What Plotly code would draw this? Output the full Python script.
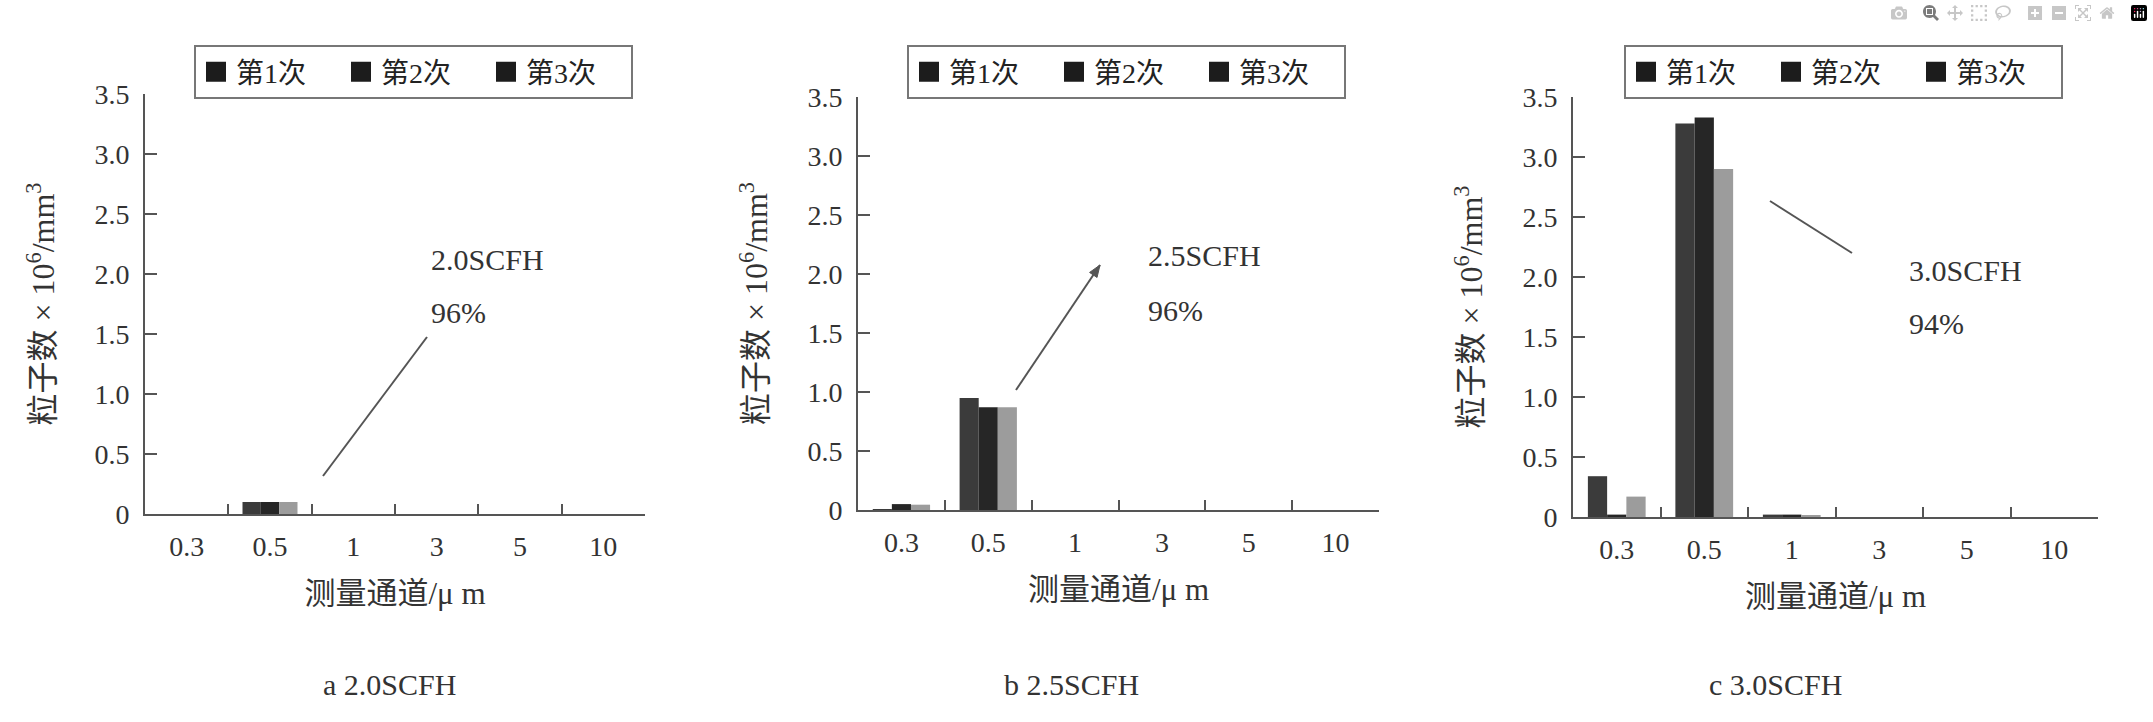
import math
import plotly.graph_objects as go

W, H = 2153, 722
FONT = "Liberation Serif, Noto Sans CJK SC, serif"
TXT = "#333333"
AXC = "#555555"

# ---------------- data ----------------
categories = ["0.3", "0.5", "1", "3", "5", "10"]
series_names = ["第1次", "第2次", "第3次"]

a_run1 = [0.0, 0.10, 0.0, 0.0, 0.0, 0.0]
a_run2 = [0.0, 0.10, 0.0, 0.0, 0.0, 0.0]
a_run3 = [0.0, 0.10, 0.0, 0.0, 0.0, 0.0]

b_run1 = [0.005, 0.95, 0.0, 0.0, 0.0, 0.0]
b_run2 = [0.05, 0.87, 0.0, 0.0, 0.0, 0.0]
b_run3 = [0.045, 0.87, 0.0, 0.0, 0.0, 0.0]

c_run1 = [0.34, 3.28, 0.02, 0.0, 0.0, 0.0]
c_run2 = [0.02, 3.33, 0.02, 0.0, 0.0, 0.0]
c_run3 = [0.17, 2.90, 0.015, 0.0, 0.0, 0.0]

y_tickvals = [0, 0.5, 1.0, 1.5, 2.0, 2.5, 3.0, 3.5]
y_ticktext = ["0", "0.5", "1.0", "1.5", "2.0", "2.5", "3.0", "3.5"]

flow_labels = ["2.0SCFH", "2.5SCFH", "3.0SCFH"]
efficiencies = ["96%", "96%", "94%"]
captions = ["a 2.0SCFH", "b 2.5SCFH", "c 3.0SCFH"]

y_title = "粒子数 × 10<sup>6</sup>/mm<sup>3</sup>"
x_title = "测量通道/μ m"

# ---------------- styling / geometry (pixels) ----------------
bar_colors = ["#3b3b3b", "#262626", "#9c9c9c"]
swatch_color = "#1c1c1c"

panels = [
    dict(x0=145, x1=645, top=94, bottom=514, legend=(194, 45),
         line=((323, 476), (427, 337)), head=False, text=(429, 259, 312), cap=389),
    dict(x0=858, x1=1379, top=97, bottom=510, legend=(907, 45),
         line=((1016, 390), (1100, 265)), head=True, text=(1146, 255, 310), cap=1071),
    dict(x0=1573, x1=2098, top=97, bottom=517, legend=(1624, 45),
         line=((1770, 201), (1852, 253)), head=False, text=(1907, 270, 324), cap=1775),
]


def px(x):
    return x / W


def py(y):
    return 1 - y / H


runs_all = [
    [a_run1, a_run2, a_run3],
    [b_run1, b_run2, b_run3],
    [c_run1, c_run2, c_run3],
]

fig = go.Figure()
annotations = []
shapes = []
layout_extra = {}

for i, (p, runs) in enumerate(zip(panels, runs_all)):
    sfx = "" if i == 0 else str(i + 1)
    xa, ya = "x" + sfx, "y" + sfx
    leg = "legend" + sfx
    for j in range(3):
        fig.add_trace(go.Bar(
            x=categories, y=runs[j], name=series_names[j],
            marker=dict(color=bar_colors[j], line=dict(width=0)),
            xaxis=xa, yaxis=ya, showlegend=False,
        ))
    for j in range(3):
        fig.add_trace(go.Scatter(
            x=[None], y=[None], mode="markers", name=series_names[j],
            marker=dict(symbol="square", size=16, color=swatch_color,
                        line=dict(color=swatch_color, width=4)),
            xaxis=xa, yaxis=ya, legend=leg, showlegend=True, hoverinfo="skip",
        ))

    layout_extra["xaxis" + sfx] = dict(
        domain=[px(p["x0"]), px(p["x1"])], anchor=ya,
        type="category", categoryorder="array", categoryarray=categories,
        showline=True, linecolor=AXC, linewidth=2,
        ticks="inside", tickson="boundaries", ticklen=10, tickwidth=2, tickcolor=AXC,
        tickfont=dict(size=28, color=TXT, family=FONT),
        ticklabelstandoff=6,
        showgrid=False, zeroline=False,
        title=dict(text=x_title, font=dict(size=31, color=TXT, family=FONT), standoff=22),
    )
    layout_extra["yaxis" + sfx] = dict(
        domain=[py(p["bottom"]), py(p["top"])], anchor=xa,
        range=[0, 3.5], tickmode="array", tickvals=y_tickvals, ticktext=y_ticktext,
        showline=True, linecolor=AXC, linewidth=2,
        ticks="inside", ticklen=12, tickwidth=2, tickcolor=AXC,
        tickfont=dict(size=28, color=TXT, family=FONT),
        ticklabelstandoff=8,
        showgrid=False, zeroline=False,
        title=dict(text=y_title, font=dict(size=32, color=TXT, family=FONT), standoff=30),
    )
    lx, ly = p["legend"]
    layout_extra[leg] = dict(
        x=px(lx), y=py(ly), xanchor="left", yanchor="top",
        orientation="h", bgcolor="white", bordercolor="#777777", borderwidth=2,
        font=dict(size=28, color="#222222", family=FONT),
        entrywidth=100, entrywidthmode="pixels", itemwidth=30,
        itemclick=False, itemdoubleclick=False,
    )

    # pointer line from bars to the label
    (x0, y0), (x1, y1) = p["line"]
    shapes.append(dict(
        type="line", xref="paper", yref="paper",
        x0=px(x0), y0=py(y0), x1=px(x1), y1=py(y1),
        line=dict(color="#555555", width=2),
    ))
    if p["head"]:
        dx, dy = x1 - x0, y1 - y0
        L = math.hypot(dx, dy)
        ux, uy = dx / L, dy / L
        bx, by = x1 - 12 * ux, y1 - 12 * uy
        nx, ny = -uy, ux
        pts = [(x1, y1), (bx + 4.5 * nx, by + 4.5 * ny), (bx - 4.5 * nx, by - 4.5 * ny)]
        path = "M {} {} L {} {} L {} {} Z".format(
            *[v for pt in pts for v in (px(pt[0]), py(pt[1]))])
        shapes.append(dict(type="path", xref="paper", yref="paper", path=path,
                           fillcolor="#555555", line=dict(color="#555555", width=1)))

    tx, ty1, ty2 = p["text"]
    annotations.append(dict(
        xref="paper", yref="paper", x=px(tx), y=py(ty1), xanchor="left", yanchor="middle",
        text=flow_labels[i], showarrow=False, font=dict(size=30, color=TXT, family=FONT),
    ))
    annotations.append(dict(
        xref="paper", yref="paper", x=px(tx), y=py(ty2), xanchor="left", yanchor="middle",
        text=efficiencies[i], showarrow=False, font=dict(size=30, color=TXT, family=FONT),
    ))
    annotations.append(dict(
        xref="paper", yref="paper", x=px(p["cap"]), y=py(684), xanchor="center", yanchor="middle",
        text=captions[i], showarrow=False, font=dict(size=30, color=TXT, family=FONT),
    ))

fig.update_layout(
    width=W, height=H, autosize=False,
    margin=dict(l=0, r=0, t=0, b=0, autoexpand=False),
    paper_bgcolor="white", plot_bgcolor="white",
    barmode="group", bargap=0.34, bargroupgap=0,
    font=dict(family=FONT, color=TXT),
    annotations=annotations,
    shapes=shapes,
    **layout_extra,
)

fig.write_html("out.html", post_script="document.body.style.margin='0';")
